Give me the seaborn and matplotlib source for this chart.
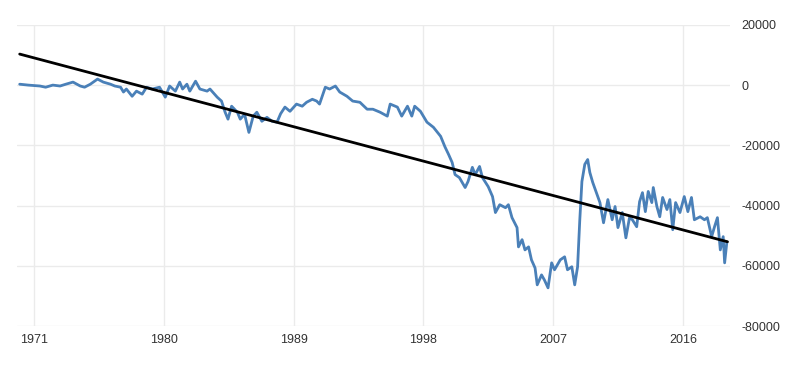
import matplotlib
matplotlib.use("Agg")
import matplotlib.pyplot as plt
import pandas as pd
import seaborn as sns

# values (decimal year, value)
years = [1970.0, 1970.6, 1971.4, 1971.8, 1972.3, 1972.8, 1973.2, 1973.7, 1974.2, 1974.5,
         1974.9, 1975.4, 1975.8, 1976.3, 1976.6, 1977.0, 1977.2, 1977.4, 1977.8, 1978.1,
         1978.5, 1978.8, 1979.2, 1979.7, 1980.1, 1980.4, 1980.8, 1981.1, 1981.3, 1981.6,
         1981.8, 1982.2, 1982.5, 1983.0, 1983.2, 1983.7, 1984.0, 1984.25, 1984.45, 1984.7,
         1985.1, 1985.3, 1985.6, 1985.9, 1986.2, 1986.45, 1986.8, 1987.15, 1987.5, 1987.85,
         1988.1, 1988.4, 1988.75, 1989.2, 1989.6, 1989.9, 1990.3, 1990.6, 1990.8, 1991.2,
         1991.5, 1991.9, 1992.2, 1992.7, 1993.1, 1993.6, 1994.1, 1994.5, 1995.0, 1995.5,
         1995.7, 1996.2, 1996.5, 1996.9, 1997.2, 1997.4, 1997.8, 1998.25, 1998.7, 1999.2,
         1999.5, 1999.75, 2000.0, 2000.2, 2000.5, 2000.9, 2001.1, 2001.4, 2001.6, 2001.9,
         2002.1, 2002.5, 2002.8, 2003.0, 2003.3, 2003.7, 2003.9, 2004.15, 2004.5, 2004.6,
         2004.85, 2005.05, 2005.3, 2005.5, 2005.75, 2005.9, 2006.2, 2006.4, 2006.65, 2006.9,
         2007.1, 2007.5, 2007.8, 2008.0, 2008.3, 2008.5, 2008.7, 2008.85, 2009.0, 2009.2,
         2009.4, 2009.55, 2009.75, 2010.0, 2010.25, 2010.5, 2010.8, 2011.1, 2011.3, 2011.5,
         2011.8, 2012.05, 2012.3, 2012.5, 2012.8, 2013.0, 2013.2, 2013.4, 2013.6, 2013.85,
         2013.95, 2014.2, 2014.4, 2014.6, 2014.9, 2015.1, 2015.3, 2015.5, 2015.8, 2016.1,
         2016.35, 2016.6, 2016.8, 2017.2, 2017.5, 2017.7, 2018.0, 2018.2, 2018.4, 2018.6,
         2018.8, 2018.9, 2019.05]
values = [300, 0, -300, -700, 0, -300, 300, 1000, -300, -700,
          300, 2000, 1000, 300, -300, -700, -2300, -1300, -3700, -2000,
          -3000, -700, -1300, -700, -4000, -300, -2000, 1000, -1300, 300,
          -2000, 1300, -1300, -2000, -1300, -4000, -5300, -9000, -11300, -7000,
          -9000, -11300, -9700, -15700, -10300, -9000, -12000, -10700, -12000, -12300,
          -9500, -7300, -8700, -6300, -7000, -5700, -4700, -5300, -6300, -700,
          -1300, -300, -2300, -3700, -5300, -5700, -8000, -8000, -9000, -10300,
          -6300, -7300, -10300, -7000, -10300, -7000, -8700, -12300, -14000, -17000,
          -20500, -23000, -25700, -29700, -30700, -34000, -32000, -27300, -29700, -27000,
          -30700, -33700, -37000, -42300, -39700, -40700, -39700, -44000, -47300, -53700,
          -51300, -54700, -53700, -58000, -60700, -66300, -63000, -64700, -67300, -59000,
          -61300, -58000, -57000, -61300, -60300, -66300, -60300, -45000, -32000, -26300,
          -24700, -29000, -32300, -35700, -39000, -45700, -38000, -44700, -40300, -47300,
          -42300, -50700, -44000, -44700, -47000, -38700, -35700, -42000, -35300, -39000,
          -34000, -40300, -43700, -37300, -41300, -38000, -48000, -39000, -42300, -37000,
          -42000, -37300, -44700, -43700, -44700, -44000, -50300, -47000, -44000, -54700,
          -50300, -59000, -52300]

# trend line end points
trend_years = [1970.0, 2019.1]
trend_values = [10300, -52000]

xticks = [1971, 1980, 1989, 1998, 2007, 2016]
yticks = [20000, 0, -20000, -40000, -60000, -80000]

df = pd.DataFrame({"year": years, "value": values})
trend = pd.DataFrame({"year": trend_years, "value": trend_values})

sns.set_style("whitegrid")
plt.rcParams["font.family"] = ["Liberation Sans", "DejaVu Sans"]

fig = plt.figure(figsize=(8, 3.71), dpi=100)
ax = fig.add_axes([0.021, 0.121, 0.892, 0.812])

sns.lineplot(data=df, x="year", y="value", ax=ax, color="#4a80b8", linewidth=2)
sns.lineplot(data=trend, x="year", y="value", ax=ax, color="black", linewidth=2)

ax.set_xlim(1969.8, 2019.3)
ax.set_ylim(-80000, 20000)
ax.set_xticks(xticks)
ax.set_yticks(yticks)
ax.set_xticklabels([str(t) for t in xticks])
ax.set_yticklabels([str(t) for t in yticks])
ax.yaxis.tick_right()
ax.set_xlabel("")
ax.set_ylabel("")
ax.grid(True, color="#ebebeb", linewidth=1)
for s in ax.spines.values():
    s.set_visible(False)
ax.tick_params(axis="both", length=0, labelsize=9, labelcolor="#333333")
ax.tick_params(axis="x", pad=6)
ax.tick_params(axis="y", pad=8)

fig.savefig("out.png", dpi=100)
